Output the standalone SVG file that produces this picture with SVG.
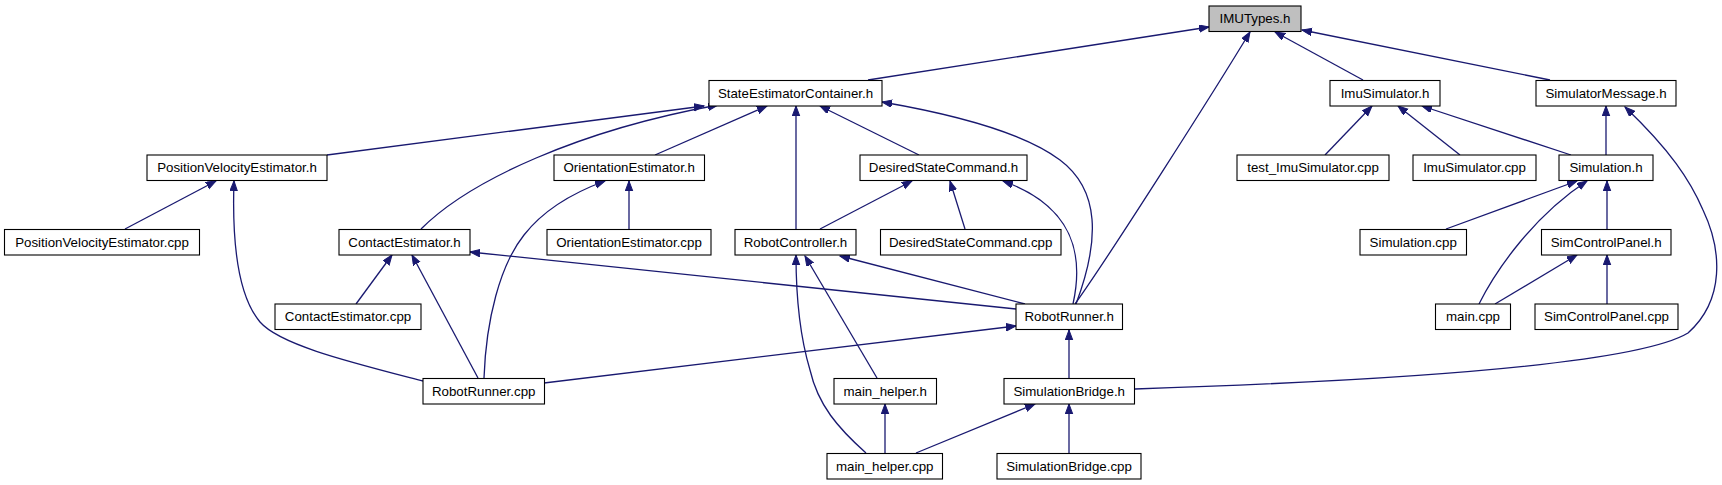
<svg xmlns="http://www.w3.org/2000/svg" width="1722" height="485" viewBox="0 0 1722 485">
<style>
.n rect{fill:#ffffff;stroke:#000000;stroke-width:1.1}
.n.root rect{fill:#bfbfbf}
.n text{font-family:"Liberation Sans",Arial,Helvetica,sans-serif;font-size:13.3px;fill:#000000;text-anchor:middle}
.e path{fill:none;stroke:#191970;stroke-width:1.3;marker-end:url(#ah)}
</style>
<defs>
<marker id="ah" markerWidth="12" markerHeight="9" refX="10" refY="3.75" orient="auto" markerUnits="userSpaceOnUse">
<path d="M0,0 L10,3.75 L0,7.5 z" fill="#191970" stroke="#191970" stroke-width="1"/>
</marker>
</defs>
<rect width="1722" height="485" fill="#ffffff"/>
<g id="edges" class="e">
<path d="M868,80 L1209,27"/>
<path d="M1363,80 L1275,32"/>
<path d="M1550,80 L1302,30"/>
<path d="M1075,304 C1110,255 1215,90 1250,32"/>
<path d="M327,155 L704,106"/>
<path d="M421,229 C470,180 580,130 718,105"/>
<path d="M655,155 L767,106"/>
<path d="M796,229 L796,106"/>
<path d="M919,155 L820,106"/>
<path d="M1076,304 C1100,240 1100,190 1060,160 C1020,130 940,112 882,102"/>
<path d="M1073,304 C1085,250 1070,205 1003,181"/>
<path d="M125,229 L216,181"/>
<path d="M423,381 C350,362 280,345 260,322 C238,296 232,240 234,181"/>
<path d="M629,229 L629,181"/>
<path d="M484,378 C486,320 500,265 524,235 C545,208 575,192 605,181"/>
<path d="M820,229 L912,181"/>
<path d="M965,229 L950,181"/>
<path d="M356,304 L392,255"/>
<path d="M478,378 L412,255"/>
<path d="M1016,309 L470,252"/>
<path d="M1025,304 L840,256"/>
<path d="M877,378 L805,256"/>
<path d="M866,453 C838,428 818,405 810,370 C798,330 796,290 796,255"/>
<path d="M544,383 L1016,326"/>
<path d="M1069,378 L1069,330"/>
<path d="M885,453 L885,404"/>
<path d="M916,453 L1035,404"/>
<path d="M1069,453 L1069,404"/>
<path d="M1135,389 C1350,382 1630,368 1688,333 C1725,300 1722,250 1703,210 C1690,180 1670,150 1625,107"/>
<path d="M1325,155 L1372,106"/>
<path d="M1460,155 L1398,106"/>
<path d="M1571,155 L1422,106"/>
<path d="M1606,155 L1606,106"/>
<path d="M1446,229 L1577,181"/>
<path d="M1479,304 C1497,268 1535,215 1587,181"/>
<path d="M1607,229 L1607,181"/>
<path d="M1495,304 L1577,255"/>
<path d="M1607,304 L1607,255"/>
</g>
<g id="IMUTypes_h" class="n root"><rect x="1209" y="6" width="92" height="25.5"/><text x="1255" y="23.4">IMUTypes.h</text></g>
<g id="StateEstimatorContainer_h" class="n"><rect x="709" y="80.5" width="173" height="25.5"/><text x="795.5" y="97.9">StateEstimatorContainer.h</text></g>
<g id="ImuSimulator_h" class="n"><rect x="1330" y="80.5" width="110" height="25.5"/><text x="1385" y="97.9">ImuSimulator.h</text></g>
<g id="SimulatorMessage_h" class="n"><rect x="1536" y="80.5" width="140" height="25.5"/><text x="1606" y="97.9">SimulatorMessage.h</text></g>
<g id="PositionVelocityEstimator_h" class="n"><rect x="147" y="155" width="180" height="25.5"/><text x="237" y="172.4">PositionVelocityEstimator.h</text></g>
<g id="OrientationEstimator_h" class="n"><rect x="554" y="155" width="150.5" height="25.5"/><text x="629.2" y="172.4">OrientationEstimator.h</text></g>
<g id="DesiredStateCommand_h" class="n"><rect x="860" y="155" width="167" height="25.5"/><text x="943.5" y="172.4">DesiredStateCommand.h</text></g>
<g id="test_ImuSimulator_cpp" class="n"><rect x="1237" y="155" width="152" height="25.5"/><text x="1313" y="172.4">test_ImuSimulator.cpp</text></g>
<g id="ImuSimulator_cpp" class="n"><rect x="1413" y="155" width="123" height="25.5"/><text x="1474.5" y="172.4">ImuSimulator.cpp</text></g>
<g id="Simulation_h" class="n"><rect x="1559" y="155" width="94" height="25.5"/><text x="1606" y="172.4">Simulation.h</text></g>
<g id="PositionVelocityEstimator_cpp" class="n"><rect x="4.5" y="229.5" width="195" height="25.5"/><text x="102" y="246.9">PositionVelocityEstimator.cpp</text></g>
<g id="ContactEstimator_h" class="n"><rect x="339" y="229.5" width="131" height="25.5"/><text x="404.5" y="246.9">ContactEstimator.h</text></g>
<g id="OrientationEstimator_cpp" class="n"><rect x="547" y="229.5" width="164" height="25.5"/><text x="629" y="246.9">OrientationEstimator.cpp</text></g>
<g id="RobotController_h" class="n"><rect x="735" y="229.5" width="121" height="25.5"/><text x="795.5" y="246.9">RobotController.h</text></g>
<g id="DesiredStateCommand_cpp" class="n"><rect x="880.5" y="229.5" width="180.5" height="25.5"/><text x="970.7" y="246.9">DesiredStateCommand.cpp</text></g>
<g id="Simulation_cpp" class="n"><rect x="1360" y="229.5" width="106.5" height="25.5"/><text x="1413.2" y="246.9">Simulation.cpp</text></g>
<g id="SimControlPanel_h" class="n"><rect x="1541.5" y="229.5" width="129.5" height="25.5"/><text x="1606.2" y="246.9">SimControlPanel.h</text></g>
<g id="ContactEstimator_cpp" class="n"><rect x="275" y="304" width="146" height="25.5"/><text x="348" y="321.4">ContactEstimator.cpp</text></g>
<g id="RobotRunner_h" class="n"><rect x="1016" y="304" width="106.5" height="25.5"/><text x="1069.2" y="321.4">RobotRunner.h</text></g>
<g id="main_cpp" class="n"><rect x="1435.5" y="304" width="75" height="25.5"/><text x="1473" y="321.4">main.cpp</text></g>
<g id="SimControlPanel_cpp" class="n"><rect x="1535" y="304" width="143" height="25.5"/><text x="1606.5" y="321.4">SimControlPanel.cpp</text></g>
<g id="RobotRunner_cpp" class="n"><rect x="423" y="378.5" width="121.5" height="25.5"/><text x="483.7" y="395.9">RobotRunner.cpp</text></g>
<g id="main_helper_h" class="n"><rect x="834" y="378.5" width="102.5" height="25.5"/><text x="885.2" y="395.9">main_helper.h</text></g>
<g id="SimulationBridge_h" class="n"><rect x="1004" y="378.5" width="130.5" height="25.5"/><text x="1069.2" y="395.9">SimulationBridge.h</text></g>
<g id="main_helper_cpp" class="n"><rect x="827" y="453.5" width="115.5" height="25.5"/><text x="884.7" y="470.9">main_helper.cpp</text></g>
<g id="SimulationBridge_cpp" class="n"><rect x="997" y="453.5" width="144" height="25.5"/><text x="1069" y="470.9">SimulationBridge.cpp</text></g>
</svg>
